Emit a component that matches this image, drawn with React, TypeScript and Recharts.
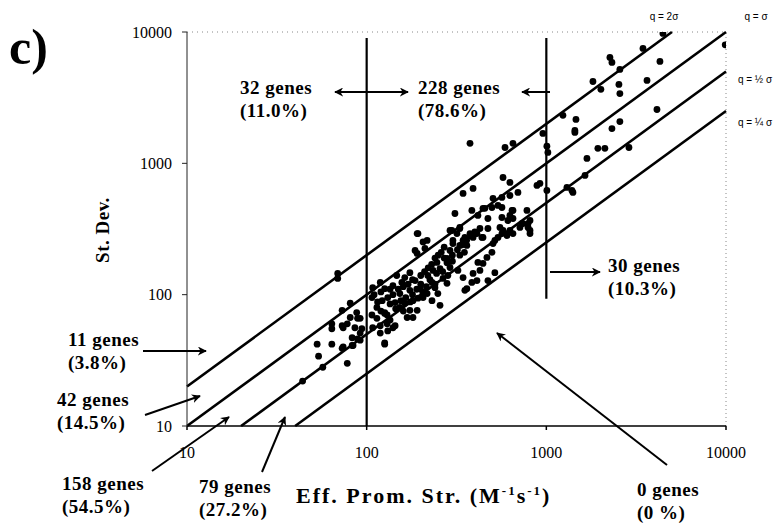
import { ReferenceLine, Scatter, ScatterChart, XAxis, YAxis } from "recharts";

// promoter strength (x) and its standard deviation (y), one entry per gene
const promStrength = [
	69, 69, 81, 73, 88, 89, 64, 73, 78, 86, 92, 89, 83, 53, 64, 54, 73, 78, 57, 44, 126, 74, 64, 74, 81, 92, 83, 92, 84, 94,
	108, 107, 114, 107, 114, 108, 119, 126, 119, 131, 140, 135, 126, 122, 131, 126, 119, 140, 147, 157, 153, 144, 153, 163,
	174, 168, 181, 191, 181, 174, 163, 174, 186, 198, 206, 193, 191, 191, 217, 211, 219, 234, 246, 256, 231, 240, 249, 256,
	231, 217, 266, 280, 283, 291, 280, 291, 302, 310, 318, 298, 330, 344, 361, 322, 344, 361, 385, 391, 411, 427, 416, 444,
	467, 498, 505, 376, 401, 427, 438, 385, 416, 455, 473, 538, 552, 566, 611, 627, 652, 652, 713, 741, 780, 811, 791, 811,
	517, 473,
	376, 589, 652, 957, 1007, 1020, 1007, 1442, 574, 627, 921, 887, 344, 391, 444, 505, 566, 627, 695, 498, 566, 566, 644,
	652, 791, 811, 627, 574, 473, 411, 330, 291, 352, 302, 330, 391, 444, 517, 538, 604, 731, 1388,
	4456, 3451, 2259, 2318, 2566, 4289, 1817, 2012, 2535, 2566, 3634, 9900, 1237, 1462, 1442, 2318, 2566, 4128, 1936, 2118,
	2883, 1683, 1641, 1302, 1406,
	193, 186, 206, 352, 126, 144, 130,
	140, 150, 160, 170, 180, 200, 210, 220, 230, 240, 250, 260, 270, 200, 190, 180, 165, 155, 145, 135, 225, 245, 265, 300,
	320, 340, 360, 380, 400, 280, 270, 300, 330, 350, 240, 215, 205, 175, 160, 130, 120, 115, 110, 120, 135,
];
const stDev = [
	145, 133, 86, 76, 73, 66, 55, 58, 60, 56, 51, 46, 41, 42, 42, 34, 39, 30, 28, 22, 43, 40, 60, 56, 67, 66, 47, 45, 41, 55,
	113, 95, 80, 70, 66, 56, 58, 42, 51, 53, 56, 64, 73, 90, 95, 111, 124, 117, 140, 124, 102, 87, 80, 86,
	76, 67, 67, 76, 90, 108, 135, 147, 128, 111, 95, 94, 206, 292, 259, 225, 140, 153, 176, 158, 124, 113, 102, 83,
	90, 102, 133, 122, 140, 161, 189, 217, 245, 415, 292, 308, 319, 259, 237, 153, 135, 111, 124, 145, 128, 153, 176, 173,
	192, 210, 245, 292, 292, 319, 273, 438, 401, 454, 380, 478, 325, 292, 367, 401, 438, 292, 325, 348, 438, 367, 325, 292,
	147, 128,
	1420, 1320, 1420, 1690, 1350, 1210, 622, 1720, 780, 716, 703, 679, 590, 644, 454, 541, 550, 569, 600, 461, 461, 387, 438,
	380, 348, 308, 308, 308, 319, 292, 325, 308, 273, 259, 237, 273, 273, 259, 273, 282, 348, 622,
	9750, 7500, 6400, 5870, 5190, 5970, 4200, 3660, 3990, 3400, 4280, 7980, 2320, 2160, 1780, 1840, 2080, 2570, 1300, 1300,
	1320, 1090, 809, 655, 600,
	292, 217, 252, 108, 72, 58, 60,
	100, 110, 115, 120, 130, 140, 150, 160, 170, 190, 200, 210, 230, 120, 110, 100, 95, 90, 78, 85, 130, 145, 150, 200,
	220, 240, 260, 280, 300, 175, 190, 180, 200, 210, 120, 115, 105, 88, 75, 70, 75, 88, 100, 105, 110,
];

const axisTicks = [10, 100, 1000, 10000];

// q = 2σ, σ, ½σ, ¼σ boundary lines
const qLabels = ["q = 2σ", "q = σ", "q = ½ σ", "q = ¼ σ"];
const qStart = [
	[10, 20],
	[10, 10],
	[20, 10],
	[40, 10],
];
const qEnd = [
	[5000, 10000],
	[10000, 10000],
	[10000, 5000],
	[10000, 2500],
];

// vertical cut-offs at promoter strength 100 and 1000
const cutX = [100, 1000];
const cutTop = [9000, 9000];
const cutBottom = [10, 93];

const geneCounts = ["32 genes", "228 genes", "30 genes", "11 genes", "42 genes", "158 genes", "79 genes", "0 genes"];
const genePct = ["(11.0%)", "(78.6%)", "(10.3%)", "(3.8%)", "(14.5%)", "(54.5%)", "(27.2%)", "(0 %)"];

const SERIF = "'Liberation Serif', 'Times New Roman', serif";
const SANS = "'Liberation Sans', Arial, sans-serif";

// label anchors (top line baseline) for each gene count
const labelPos = [
	[240, 94],
	[418, 94],
	[608, 272],
	[68, 346],
	[57, 406],
	[62, 490],
	[199, 493],
	[637, 496],
];

const arrows = [
	{ x1: 335, y1: 92, x2: 408, y2: 92, both: true },
	{ x1: 550, y1: 92, x2: 522, y2: 92 },
	{ x1: 550, y1: 272, x2: 600, y2: 272 },
	{ x1: 143, y1: 351, x2: 206, y2: 351 },
	{ x1: 145, y1: 415, x2: 200, y2: 396 },
	{ x1: 152, y1: 471, x2: 229, y2: 417 },
	{ x1: 262, y1: 472, x2: 285, y2: 417 },
	{ x1: 667, y1: 465, x2: 497, y2: 333 },
];

const qLabelPos = [
	[664, 20],
	[756, 20],
	[755, 83],
	[755, 126],
];

const data = promStrength.map((x, i) => ({ x, y: stDev[i] }));

const Dot = (props: any) => <circle cx={props.cx} cy={props.cy} r={3.4} fill="#000" />;

export default function App() {
	return (
		<div style={{ position: "absolute", left: 0, top: 0, width: 783, height: 523, background: "#fff" }}>
			<ScatterChart
				width={783}
				height={523}
				margin={{ top: 32, right: 57, left: 127, bottom: 67 }}
			>
				<XAxis
					type="number"
					dataKey="x"
					scale="log"
					domain={[10, 10000]}
					ticks={axisTicks}
					allowDataOverflow
					height={30}
					stroke="#000"
					strokeWidth={1.5}
					tickSize={4}
					tickMargin={17}
					tick={{ fill: "#000", fontSize: 16, fontFamily: SERIF }}
				/>
				<YAxis
					type="number"
					dataKey="y"
					scale="log"
					domain={[10, 10000]}
					ticks={axisTicks}
					allowDataOverflow
					width={60}
					stroke="#222"
					tickSize={5}
					tickMargin={10}
					tick={{ fill: "#000", fontSize: 16, fontFamily: SERIF }}
				/>
				<ReferenceLine y={10000} stroke="#888" strokeDasharray="1 4" />
				<ReferenceLine x={10000} stroke="#888" strokeDasharray="1 3" />
				{qStart.map((s, i) => (
					<ReferenceLine
						key={qLabels[i]}
						segment={[
							{ x: s[0], y: s[1] },
							{ x: qEnd[i][0], y: qEnd[i][1] },
						]}
						stroke="#000"
						strokeWidth={2.6}
					/>
				))}
				{cutX.map((x, i) => (
					<ReferenceLine
						key={`cut-${x}`}
						segment={[
							{ x, y: cutBottom[i] },
							{ x, y: cutTop[i] },
						]}
						stroke="#000"
						strokeWidth={2.2}
					/>
				))}
				<Scatter data={data} shape={Dot} isAnimationActive={false} />
			</ScatterChart>
			<svg
				width={783}
				height={523}
				style={{ position: "absolute", left: 0, top: 0, pointerEvents: "none" }}
			>
				<defs>
					<marker
						id="head"
						viewBox="0 0 10 10"
						refX="9"
						refY="5"
						markerWidth="9"
						markerHeight="9"
						markerUnits="userSpaceOnUse"
						orient="auto-start-reverse"
					>
						<path d="M0,0 L10,5 L0,10 L3,5 z" fill="#000" />
					</marker>
				</defs>
				<text x={9} y={64} fontFamily={SERIF} fontWeight="bold" fontSize={50} fill="#000">
					c)
				</text>
				<text
					transform="translate(109,230) rotate(-90)"
					textAnchor="middle"
					fontFamily={SERIF}
					fontWeight="bold"
					fontSize={19}
					letterSpacing={0.5}
					fill="#000"
				>
					St. Dev.
				</text>
				<text
					x={296}
					y={503}
					fontFamily={SERIF}
					fontWeight="bold"
					fontSize={22}
					letterSpacing={2}
					fill="#000"
				>
					Eff. Prom. Str. (M
					<tspan dy={-8} fontSize={13}>-1</tspan>
					<tspan dy={8}>s</tspan>
					<tspan dy={-8} fontSize={13}>-1</tspan>
					<tspan dy={8}>)</tspan>
				</text>
				{geneCounts.map((g, i) => (
					<text
						key={g}
						x={labelPos[i][0]}
						y={labelPos[i][1]}
						fontFamily={SERIF}
						fontWeight="bold"
						fontSize={19}
						letterSpacing={0.5}
						fill="#000"
					>
						<tspan x={labelPos[i][0]}>{g}</tspan>
						<tspan x={labelPos[i][0]} dy={23}>
							{genePct[i]}
						</tspan>
					</text>
				))}
				{arrows.map((a, i) => (
					<line
						key={i}
						x1={a.x1}
						y1={a.y1}
						x2={a.x2}
						y2={a.y2}
						stroke="#000"
						strokeWidth={2}
						markerEnd="url(#head)"
						markerStart={a.both ? "url(#head)" : undefined}
					/>
				))}
				{qLabels.map((q, i) => (
					<text
						key={q}
						x={qLabelPos[i][0]}
						y={qLabelPos[i][1]}
						textAnchor="middle"
						fontFamily={SANS}
						fontSize={10}
						fill="#000"
					>
						{q}
					</text>
				))}
			</svg>
		</div>
	);
}
